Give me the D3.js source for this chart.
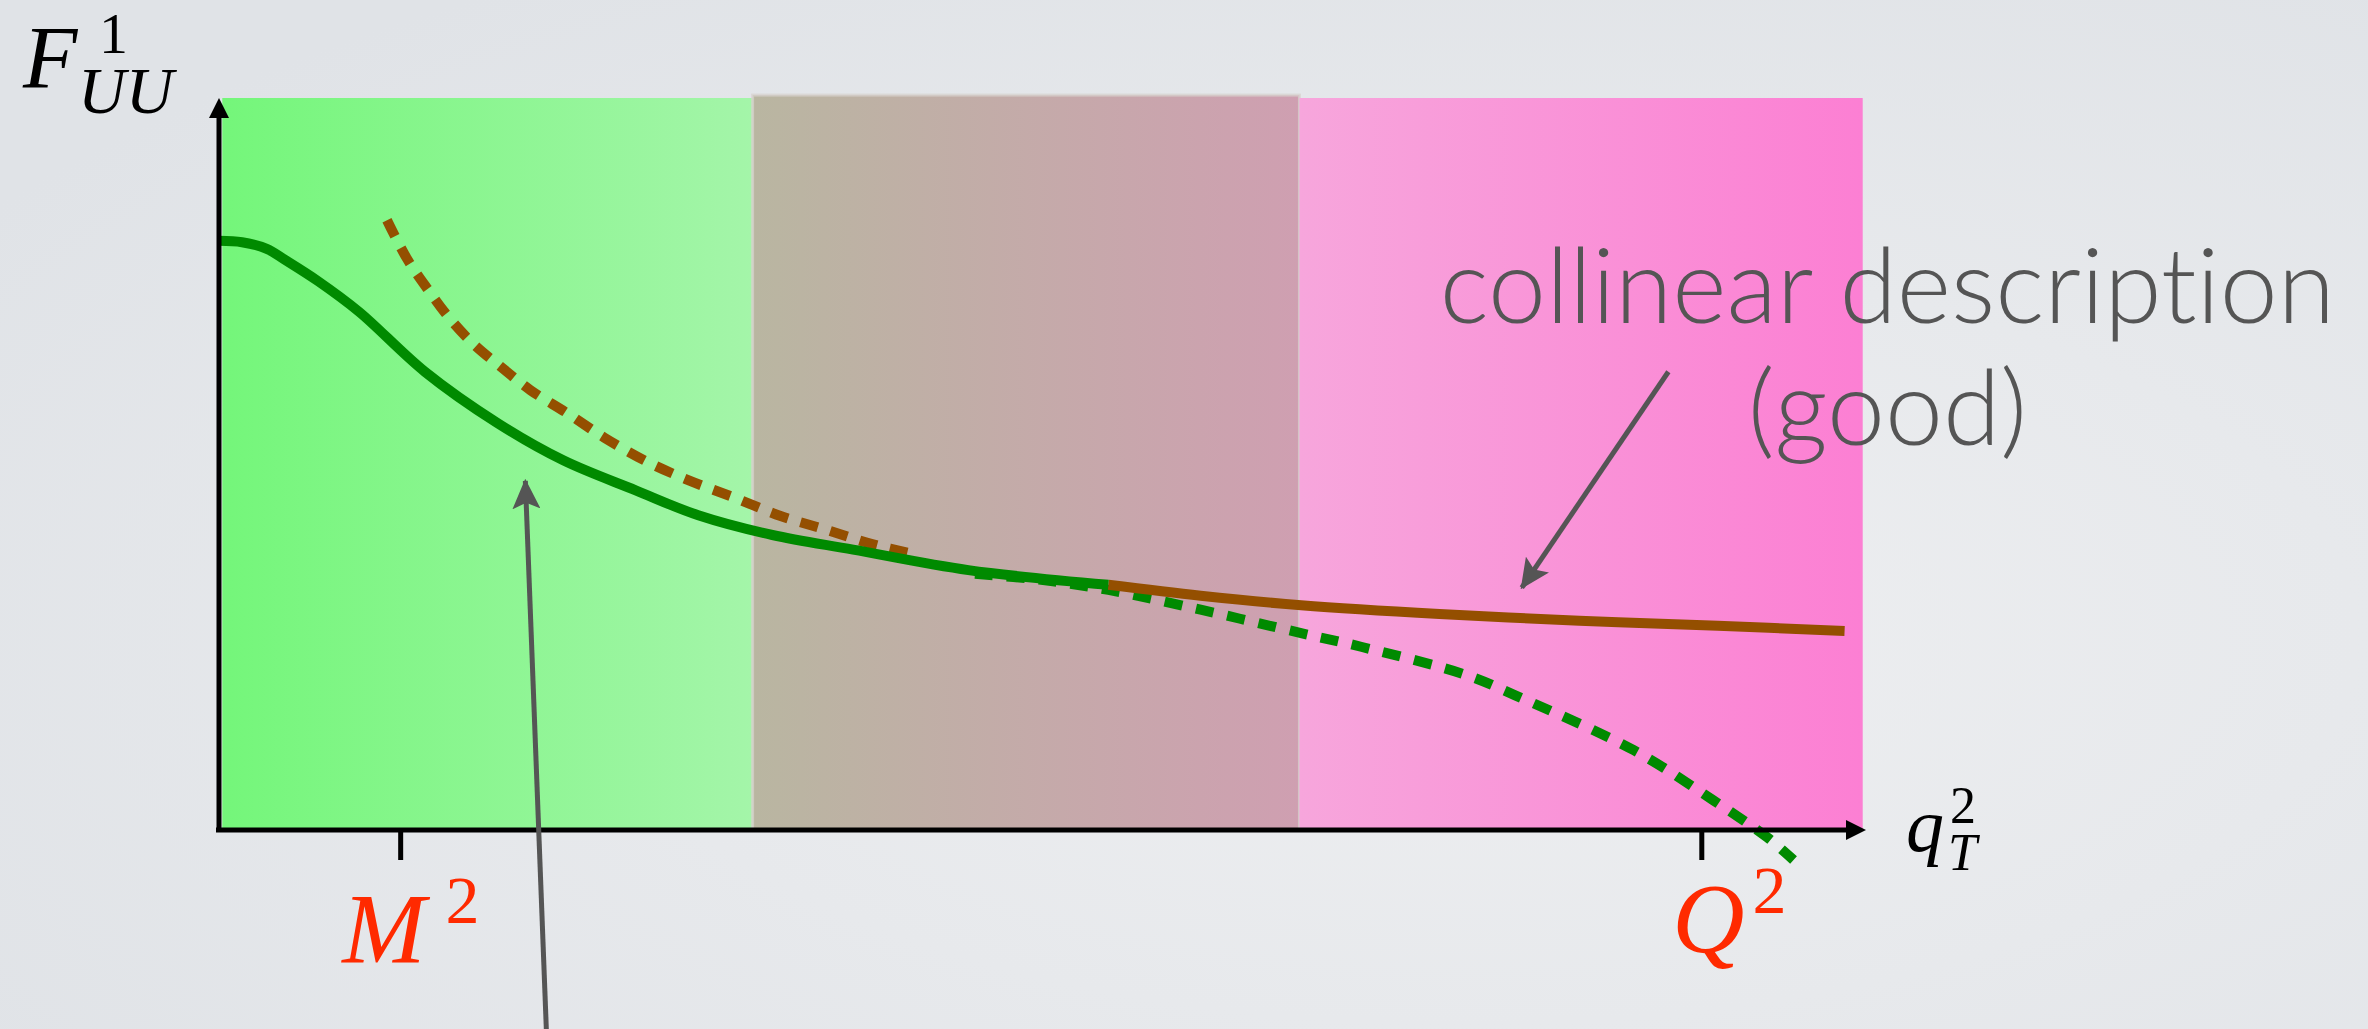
<!DOCTYPE html>
<html>
<head>
<meta charset="utf-8">
<script src="https://cdn.jsdelivr.net/npm/d3@7/dist/d3.min.js"></script>
<style>
  body { margin: 0; background: #e6e8eb; }
  svg { display: block; }
  text { font-variant-ligatures: none; font-feature-settings: "liga" 0, "clig" 0; }
</style>
</head>
<body>
<div id="chart"></div>
<script>
// q_T^2 axis runs 0..100, F_UU axis runs 0..100 (arbitrary units)
const tmdX = [0, 1.4, 2.9, 4.0, 6.0, 8.5, 12.5, 16.9, 20.9, 25.3, 29.1, 33.6, 38.5, 45.5, 54.0];
const tmdY = [80.5, 80.3, 79.4, 77.9, 75.0, 70.8, 62.6, 55.6, 50.5, 46.4, 43.0, 40.3, 38.3, 35.5, 33.5];

const tmdTailX = [45.9, 49.8, 54.0, 59.6, 65.7, 69.4, 75.7, 78.7, 85.9, 90.7, 94.0, 95.6];
const tmdTailY = [35.0, 34.2, 32.8, 30.1, 26.9, 25.0, 21.2, 18.4, 10.9, 4.1, -1.0, -4.1];

const collX = [54.0, 59.6, 65.7, 74.1, 82.6, 91.0, 98.7];
const collY = [33.5, 32.0, 30.7, 29.5, 28.6, 27.9, 27.2];

const collLowX = [10.2, 11.4, 12.7, 14.0, 15.5, 17.1, 18.9, 21.1, 23.4, 26.0, 28.6, 31.3, 34.1, 36.9, 39.6, 42.4];
const collLowY = [83.3, 78.1, 73.8, 69.9, 66.3, 63.3, 60.1, 57.0, 53.6, 50.3, 47.7, 45.4, 42.9, 41.0, 39.1, 37.6];

const regionNames = ["tmd", "overlap", "collinear"];
const regionStart = [0.2, 32.4, 65.6];
const regionEnd = [32.4, 65.6, 99.8];
const regionTop = [100, 100.4, 100];

const tickValues = [11.0, 90.0];
const tickLabels = ["M", "Q"];

const W = 2368, H = 1029;
const margin = { top: 98, right: 502, bottom: 199, left: 219 },
  width = W - margin.left - margin.right,
  height = H - margin.top - margin.bottom;

const root = d3.select("#chart").append("svg").attr("width", W).attr("height", H);
const defs = root.append("defs");

const bg = defs.append("radialGradient").attr("id", "bg")
  .attr("cx", "62%").attr("cy", "62%").attr("r", "75%");
bg.append("stop").attr("offset", "0%").attr("stop-color", "#eeeff1");
bg.append("stop").attr("offset", "100%").attr("stop-color", "#e0e3e7");
root.append("rect").attr("width", W).attr("height", H).attr("fill", "url(#bg)");

const regionColors = {
  tmd: ["#74f67a", "#a4f5a9"],
  overlap: ["#b9b6a1", "#cf9fb1"],
  collinear: ["#f7a6dc", "#fc7fd3"],
};
regionNames.forEach(function (n) {
  const g = defs.append("linearGradient").attr("id", "grad-" + n)
    .attr("x1", "0%").attr("x2", "100%").attr("y1", "0%").attr("y2", "0%");
  g.append("stop").attr("offset", "0%").attr("stop-color", regionColors[n][0]);
  g.append("stop").attr("offset", "100%").attr("stop-color", regionColors[n][1]);
});

defs.append("marker").attr("id", "head")
  .attr("markerUnits", "userSpaceOnUse")
  .attr("markerWidth", 30).attr("markerHeight", 28)
  .attr("refX", 28).attr("refY", 14).attr("orient", "auto")
  .append("path").attr("d", "M0,0 L30,14 L0,28 L6,14 Z").attr("fill", "#555555");

const svg = root.append("g")
  .attr("transform", "translate(" + margin.left + "," + margin.top + ")");

const x = d3.scaleLinear().domain([0, 100]).range([0, width]);
const y = d3.scaleLinear().domain([0, 100]).range([height, 0]);

// shaded regions
svg.append("g").selectAll("rect")
  .data(regionNames)
  .enter()
  .append("rect")
  .attr("x", (d, i) => x(regionStart[i]))
  .attr("width", (d, i) => x(regionEnd[i]) - x(regionStart[i]))
  .attr("y", (d, i) => y(regionTop[i]))
  .attr("height", (d, i) => y(0) - y(regionTop[i]))
  .attr("fill", d => "url(#grad-" + d + ")")
  .attr("stroke", d => (d === "overlap" ? "rgba(215,210,205,0.75)" : "none"))
  .attr("stroke-width", 3);

const line = d3.line()
  .x(d => x(d[0]))
  .y(d => y(d[1]))
  .curve(d3.curveCatmullRom.alpha(0.5));

function pts(xs, ys) {
  return xs.map((v, i) => [v, ys[i]]);
}

const curves = [
  { pts: pts(tmdTailX, tmdTailY), color: "#008a00", dash: "18,14", w: 10 },
  { pts: pts(collLowX, collLowY), color: "#944f00", dash: "18,13", w: 10 },
  { pts: pts(collX, collY), color: "#944f00", dash: null, w: 10 },
  { pts: pts(tmdX, tmdY), color: "#008a00", dash: null, w: 10 },
];

svg.append("g").selectAll("path")
  .data(curves)
  .enter()
  .append("path")
  .attr("d", d => line(d.pts))
  .attr("fill", "none")
  .attr("stroke", d => d.color)
  .attr("stroke-width", d => d.w)
  .attr("stroke-dasharray", d => d.dash);

// axes with arrow heads
const axisG = svg.append("g");
axisG.append("line")
  .attr("x1", x(0) - 3).attr("x2", x(100) - 14)
  .attr("y1", y(0)).attr("y2", y(0))
  .attr("stroke", "#000").attr("stroke-width", 5);
axisG.append("line")
  .attr("x1", x(0)).attr("x2", x(0))
  .attr("y1", y(0) + 2).attr("y2", y(100) + 14)
  .attr("stroke", "#000").attr("stroke-width", 5);
axisG.append("path")
  .attr("d", "M" + x(100) + "," + y(0) + " l-20,-10 l0,20 Z")
  .attr("fill", "#000");
axisG.append("path")
  .attr("d", "M" + x(0) + "," + y(100) + " l-10,20 l20,0 Z")
  .attr("fill", "#000");

const xAxis = svg.append("g")
  .attr("transform", "translate(0," + y(0) + ")")
  .call(d3.axisBottom(x).tickValues(tickValues).tickSize(30).tickFormat(""));
xAxis.select(".domain").remove();
xAxis.selectAll(".tick line").attr("stroke", "#000").attr("stroke-width", 5);

const mathFont = "'Liberation Serif', 'DejaVu Serif', serif";
const labelDx = [-58, -29], labelDy = [132, 122], supDx = [20, 8];

tickValues.forEach(function (v, i) {
  const t = svg.append("text")
    .attr("x", x(v) + labelDx[i])
    .attr("y", y(0) + labelDy[i])
    .attr("fill", "#ff2a00")
    .attr("font-family", mathFont);
  t.append("tspan").attr("font-style", "italic").attr("font-size", 100).text(tickLabels[i]);
  t.append("tspan").attr("font-size", 68).attr("dx", supDx[i]).attr("dy", -39).text("2");
});

// axis titles
svg.append("text").attr("x", -196).attr("y", -11)
  .attr("font-family", mathFont).attr("font-style", "italic").attr("font-size", 89).text("F");
svg.append("text").attr("x", -120).attr("y", -45)
  .attr("font-family", mathFont).attr("font-size", 58).text("1");
svg.append("text").attr("x", -141).attr("y", 15)
  .attr("font-family", mathFont).attr("font-style", "italic").attr("font-size", 66).text("UU");

svg.append("text").attr("x", x(100) + 40).attr("y", y(0) + 21)
  .attr("font-family", mathFont).attr("font-style", "italic").attr("font-size", 76).text("q");
svg.append("text").attr("x", x(100) + 84).attr("y", y(0) - 7)
  .attr("font-family", mathFont).attr("font-size", 52).text("2");
svg.append("text").attr("x", x(100) + 82).attr("y", y(0) + 40)
  .attr("font-family", mathFont).attr("font-style", "italic").attr("font-size", 52).text("T");

// annotations
const noteFont = "Lato, 'Open Sans', sans-serif";
svg.append("text")
  .attr("x", x(101.3)).attr("y", y(69.3))
  .attr("text-anchor", "middle")
  .attr("font-family", noteFont).attr("font-weight", 300).attr("font-size", 104)
  .attr("fill", "#555555")
  .text("collinear description");
svg.append("text")
  .attr("x", x(101.3)).attr("y", y(52.6))
  .attr("text-anchor", "middle")
  .attr("font-family", noteFont).attr("font-weight", 300).attr("font-size", 104)
  .attr("fill", "#555555")
  .text("(good)");

const arrowFrom = [[88.0, 62.6], [19.9, -28.7]];
const arrowTo = [[79.1, 33.1], [18.6, 47.7]];

svg.append("g").selectAll("line")
  .data(arrowFrom)
  .enter()
  .append("line")
  .attr("x1", d => x(d[0])).attr("y1", d => y(d[1]))
  .attr("x2", (d, i) => x(arrowTo[i][0])).attr("y2", (d, i) => y(arrowTo[i][1]))
  .attr("stroke", "#555555").attr("stroke-width", 5)
  .attr("marker-end", "url(#head)");
</script>
</body>
</html>
